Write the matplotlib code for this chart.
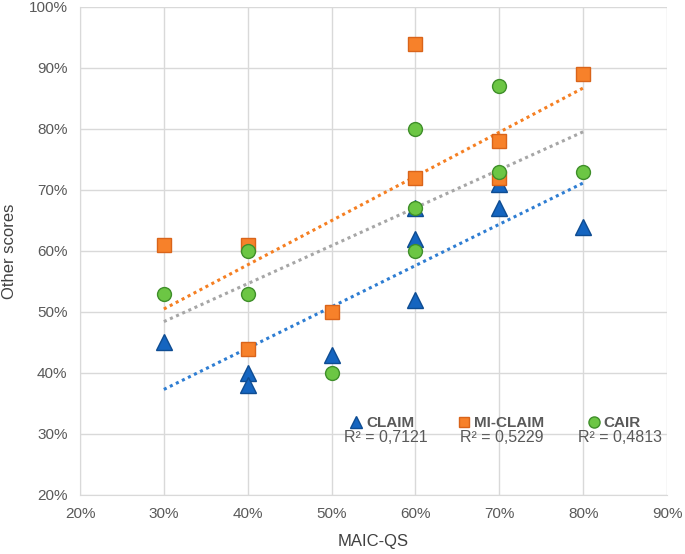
import numpy as np
import matplotlib
matplotlib.use("Agg")
import matplotlib.pyplot as plt
from matplotlib.lines import Line2D
from matplotlib.ticker import PercentFormatter

plt.rcParams['font.family'] = ['Liberation Sans', 'DejaVu Sans']

# data (percent)
claim_x = [30, 40, 40, 50, 60, 60, 60, 70, 70, 80]
claim_y = [45, 40, 38, 43, 67, 62, 52, 71, 67, 64]
miclaim_x = [30, 40, 40, 50, 60, 60, 70, 70, 80]
miclaim_y = [61, 61, 44, 50, 94, 72, 78, 72, 89]
cair_x = [30, 40, 40, 50, 60, 60, 60, 70, 70, 80]
cair_y = [53, 60, 53, 40, 80, 67, 60, 87, 73, 73]

names = ["CLAIM", "MI-CLAIM", "CAIR"]
r2_labels = ["R² = 0,7121", "R² = 0,5229", "R² = 0,4813"]

series = [
    (claim_x, claim_y, '^', '#1565C0', '#0E4C92', '#2E7DD2', 11),
    (miclaim_x, miclaim_y, 's', '#F7812A', '#D9641A', '#F57F22', 9.5),
    (cair_x, cair_y, 'o', '#6CC644', '#3F8F2A', '#A6A6A6', 10),
]

fig = plt.figure(figsize=(6.85, 5.54), dpi=100)
ax = fig.add_axes([0.1168, 0.1065, 0.857, 0.881])

for x, y, m, fc, ec, lc, ms in series:
    x = np.array(x, float)
    y = np.array(y, float)
    k, b = np.polyfit(x, y, 1)
    xs = np.array([x.min(), x.max()])
    ax.plot(xs, k * xs + b, linestyle=(0, (1, 1.2)), color=lc, lw=2.2, zorder=2)
    ax.plot(x, y, linestyle='none', marker=m, ms=ms, mfc=fc, mec=ec, mew=1, zorder=3)

ax.set_xlim(20, 90)
ax.set_ylim(20, 100)
ax.set_xticks(range(20, 91, 10))
ax.set_yticks(range(20, 101, 10))
ax.xaxis.set_major_formatter(PercentFormatter(decimals=0))
ax.yaxis.set_major_formatter(PercentFormatter(decimals=0))
ax.grid(True, color='#D9D9D9', lw=1)
ax.set_axisbelow(True)
for s in ['top', 'right']:
    ax.spines[s].set_visible(False)
for s in ['left', 'bottom']:
    ax.spines[s].set_color('#D9D9D9')
ax.tick_params(length=0, labelsize=11, labelcolor='#595959', pad=9)
ax.set_xlabel("MAIC-QS", fontsize=12, color='#404040', labelpad=9)
ax.set_ylabel("Other scores", fontsize=12, color='#404040', labelpad=8)

# legend row and R² texts
handles = [Line2D([], [], linestyle='none', marker=m, ms=ms * 0.8, mfc=fc, mec=ec)
           for _, _, m, fc, ec, _, ms in series]
leg = ax.legend(handles, names, loc='lower left', bbox_to_anchor=(0.428, 0.105),
                ncol=3, frameon=False, handletextpad=-0.1, columnspacing=2.5,
                handlelength=1.5, prop={'size': 11, 'weight': 'bold'})
for t in leg.get_texts():
    t.set_color('#595959')

for xt, lab in zip([0.521, 0.719, 0.920], r2_labels):
    ax.text(xt, 0.117, lab, transform=ax.transAxes, fontsize=11.5, color='#595959',
            ha='center', va='center')

fig.savefig("out.png", dpi=100)
